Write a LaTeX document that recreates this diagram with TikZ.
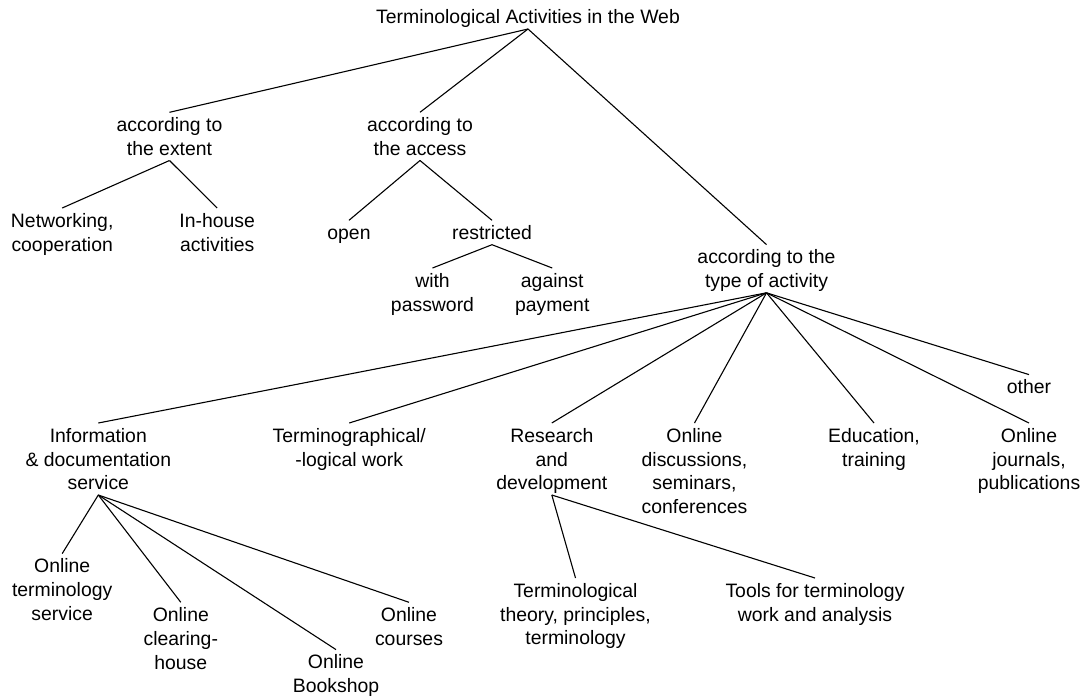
\documentclass[tikz,border=0pt]{standalone}
\usepackage{fontspec}
\setmainfont{Liberation Sans}
\newcommand\mytopstrut{\rule{0pt}{19.2pt}}
\newcommand\mybotstrut{\rule[-5.2pt]{0pt}{5.2pt}}
\begin{document}
\begin{tikzpicture}[x=1pt,y=-1pt,
  lbl/.style={inner sep=0pt, outer sep=0pt, anchor=north, align=center,
    font=\fontsize{19.4}{23.8}\selectfont},
  conn/.style={line width=1.1pt, black}]
\useasboundingbox (0,0) rectangle (1084,697);
% level 0
\node[lbl] (root) at (528,4.6) {\mytopstrut Terminological Activities in the Web\mybotstrut};
% level 1
\node[lbl] (extent) at (169.5,112.3) {\mytopstrut according to\\the extent\mybotstrut};
\node[lbl] (access) at (420,112.3) {\mytopstrut according to\\the access\mybotstrut};
\node[lbl] (type) at (766.5,244.6) {\mytopstrut according to the\\type of activity\mybotstrut};
% extent children
\node[lbl] (net) at (62.2,208) {\mytopstrut Networking,\\cooperation\mybotstrut};
\node[lbl] (inhouse) at (217.2,208) {\mytopstrut In-house\\activities\mybotstrut};
% access children
\node[lbl] (open) at (349,220.3) {\mytopstrut open\mybotstrut};
\node[lbl] (restricted) at (492,220.3) {\mytopstrut restricted\mybotstrut};
\node[lbl] (with) at (432.5,268) {\mytopstrut with\\password\mybotstrut};
\node[lbl] (against) at (552.2,268) {\mytopstrut against\\payment\mybotstrut};
% type children
\node[lbl] (info) at (98.3,423) {\mytopstrut Information\\\& documentation\\service\mybotstrut};
\node[lbl] (termino) at (349.2,423) {\mytopstrut Terminographical/\\-logical work\mybotstrut};
\node[lbl] (research) at (551.8,423) {\mytopstrut Research\\and\\development\mybotstrut};
\node[lbl] (disc) at (694.5,423) {\mytopstrut Online\\discussions,\\seminars,\\conferences\mybotstrut};
\node[lbl] (edu) at (874,423) {\mytopstrut Education,\\training\mybotstrut};
\node[lbl] (journals) at (1029,423) {\mytopstrut Online\\journals,\\publications\mybotstrut};
\node[lbl] (other) at (1029,374.6) {\mytopstrut other\mybotstrut};
% info children
\node[lbl] (ots) at (62.2,553.6) {\mytopstrut Online\\terminology\\service\mybotstrut};
\node[lbl] (clear) at (180.8,602.3) {\mytopstrut Online\\clearing-\\house\mybotstrut};
\node[lbl] (book) at (336,649.6) {\mytopstrut Online\\Bookshop\mybotstrut};
\node[lbl] (courses) at (409,602.3) {\mytopstrut Online\\courses\mybotstrut};
% research children
\node[lbl] (theory) at (575.5,578) {\mytopstrut Terminological\\theory, principles,\\terminology\mybotstrut};
\node[lbl] (tools) at (815,578) {\mytopstrut Tools for terminology\\work and analysis\mybotstrut};
% connectors
\foreach \p/\c in {root/extent, root/access, root/type,
  extent/net, extent/inhouse, access/open, access/restricted,
  restricted/with, restricted/against,
  type/info, type/termino, type/research, type/disc, type/edu, type/journals, type/other,
  info/ots, info/clear, info/book, info/courses,
  research/theory, research/tools}
  \draw[conn] (\p.south) -- (\c.north);
\end{tikzpicture}
\end{document}
